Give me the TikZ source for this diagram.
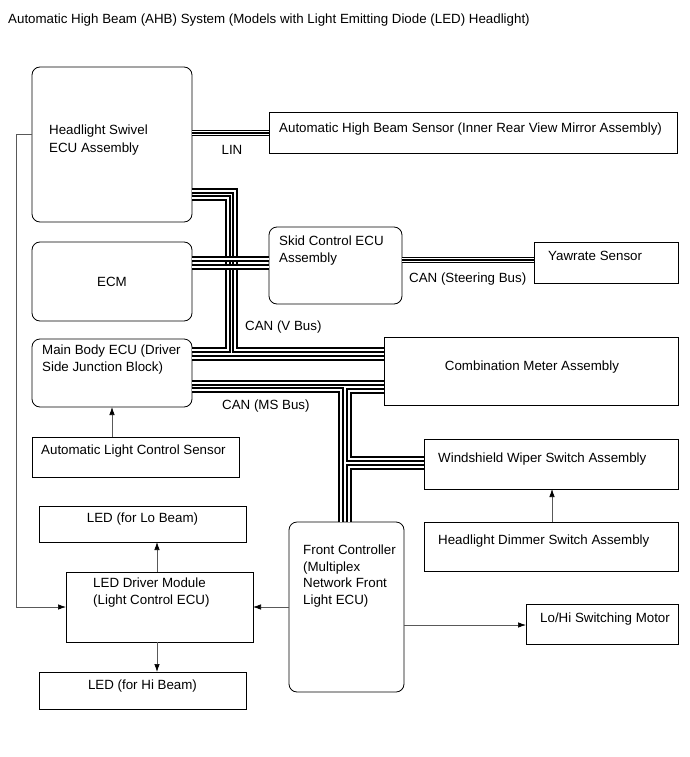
\documentclass[tikz,border=0pt]{standalone}
\usepackage{fontspec}
\setmainfont{Liberation Sans}
\usetikzlibrary{arrows.meta}
\newcommand{\lbl}{\fontsize{13.33}{17}\selectfont}
\begin{document}
\begin{tikzpicture}[x=1pt,y=-1pt,
  box/.style={draw, line width=0.8pt, anchor=north west, inner sep=0pt, outer sep=0pt},
  rbox/.style={box, rounded corners=8pt},
  txt/.style={anchor=base west, inner sep=0pt, align=left, font=\lbl},
  ctxt/.style={anchor=base, inner sep=0pt, align=center, font=\lbl},
  wire/.style={line width=2.1pt, double=white, double distance=1.1pt},
  pairwire/.style={line width=1.5pt, double=white, double distance=0.9pt},
  sig/.style={draw=gray!70!black, line width=0.7pt, -{Latex[length=8pt,width=5.5pt,color=black]}},
]
\useasboundingbox[fill=white] (0,0) rectangle (689,757);

% boxes
\node[rbox, minimum width=160pt, minimum height=155pt] (swivel) at (32,67) {};
\node[box, minimum width=408pt, minimum height=41pt] (ahb) at (269,112) {};
\node[rbox, minimum width=160pt, minimum height=79pt] (ecm) at (32,242) {};
\node[rbox, minimum width=133pt, minimum height=77pt] (skid) at (269,227) {};
\node[box, minimum width=144pt, minimum height=41pt] (yaw) at (534,242) {};
\node[rbox, minimum width=160pt, minimum height=68pt] (mainb) at (32,339) {};
\node[box, minimum width=294pt, minimum height=68pt] (comb) at (384,337) {};
\node[box, minimum width=207pt, minimum height=40pt] (als) at (32,437) {};
\node[box, minimum width=254pt, minimum height=50pt] (wiper) at (424,439) {};
\node[box, minimum width=207pt, minimum height=36pt] (ledlo) at (39,506) {};
\node[box, minimum width=254pt, minimum height=49pt] (dimmer) at (424,522) {};
\node[rbox, minimum width=115pt, minimum height=170pt] (front) at (289,522) {};
\node[box, minimum width=187pt, minimum height=70pt] (driver) at (66,572) {};
\node[box, minimum width=152pt, minimum height=40pt] (motor) at (526,604) {};
\node[box, minimum width=207pt, minimum height=37pt] (ledhi) at (39,672) {};

% texts (multi-line nodes: base = last line's baseline)
\node[txt] (title) at (8,24) {Automatic High Beam (AHB) System (Models with Light Emitting Diode (LED) Headlight)};
\node[txt] (tswivel) at (49,153) {Headlight Swivel\\[1pt]ECU Assembly};
\node[txt] (tahb) at (279,132) {Automatic High Beam Sensor (Inner Rear View Mirror Assembly)};
\node[ctxt] (tecm) at (112,286) {ECM};
\node[txt] (tskid) at (279,262) {Skid Control ECU\\Assembly};
\node[txt] (tyaw) at (548,260) {Yawrate Sensor};
\node[txt] (tmainb) at (42,371) {Main Body ECU (Driver\\Side Junction Block)};
\node[ctxt] (tcomb) at (532,370) {Combination Meter Assembly};
\node[txt] (tals) at (41,454) {Automatic Light Control Sensor};
\node[txt] (twiper) at (438,462) {Windshield Wiper Switch Assembly};
\node[ctxt] (tledlo) at (142.5,522) {LED (for Lo Beam)};
\node[txt] (tdimmer) at (438,544) {Headlight Dimmer Switch Assembly};
\node[txt] (tfront) at (303,604) {Front Controller\\[-0.5pt](Multiplex\\[-0.5pt]Network Front\\[-0.5pt]Light ECU)};
\node[txt] (tdriver) at (93,604) {LED Driver Module\\(Light Control ECU)};
\node[txt] (tmotor) at (540,622) {Lo/Hi Switching Motor};
\node[ctxt] (tledhi) at (142.5,689) {LED (for Hi Beam)};
\node[ctxt] (tlin) at (232,154) {LIN};
\node[txt] (tsteer) at (409,282) {CAN (Steering Bus)};
\node[txt] (tvbus) at (245,330) {CAN (V Bus)};
\node[txt] (tmsbus) at (222,409) {CAN (MS Bus)};

% LIN and steering bus
\draw[pairwire] (swivel.east |- 0,131.5) -- (ahb.west |- 0,131.5);
\draw[pairwire] (swivel.east |- 0,134.5) -- (ahb.west |- 0,134.5);
\draw[pairwire] (skid.east |- 0,258.5) -- (yaw.west |- 0,258.5);
\draw[pairwire] (skid.east |- 0,261.5) -- (yaw.west |- 0,261.5);

% V bus
\draw[wire] (swivel.east |- 0,191) -- (235,191) -- (235,350) -- (comb.west |- 0,350);
\draw[wire] (swivel.east |- 0,198) -- (228,198) -- (228,350) -- (mainb.east |- 0,350);
\draw[wire] (mainb.east |- 0,358) -- (comb.west |- 0,358);
\draw[wire] (ecm.east |- 0,259) -- (skid.west |- 0,259);
\draw[wire] (ecm.east |- 0,267) -- (skid.west |- 0,267);

% MS bus
\draw[wire] (mainb.east |- 0,383) -- (comb.west |- 0,383);
\draw[wire] (mainb.east |- 0,390) -- (341,390) -- (front.north -| 341,0);
\draw[wire] (comb.west |- 0,391) -- (349,391) -- (349,459) -- (wiper.west |- 0,459);
\draw[wire] (wiper.west |- 0,467) -- (349,467) -- (front.north -| 349,0);

% signal lines
\draw[sig] (swivel.west |- 0,134) -- (16,134) -- (16,607) -- (driver.west |- 0,607);
\draw[sig] (front.west |- 0,607) -- (driver.east |- 0,607);
\draw[sig] (front.east |- 0,625) -- (motor.west |- 0,625);
\draw[sig] (driver.north -| 157,0) -- (ledlo.south -| 157,0);
\draw[sig] (driver.south -| 157,0) -- (ledhi.north -| 157,0);
\draw[sig] (dimmer.north -| 552,0) -- (wiper.south -| 552,0);
\draw[sig] (als.north -| 112,0) -- (mainb.south -| 112,0);
\end{tikzpicture}
\end{document}
